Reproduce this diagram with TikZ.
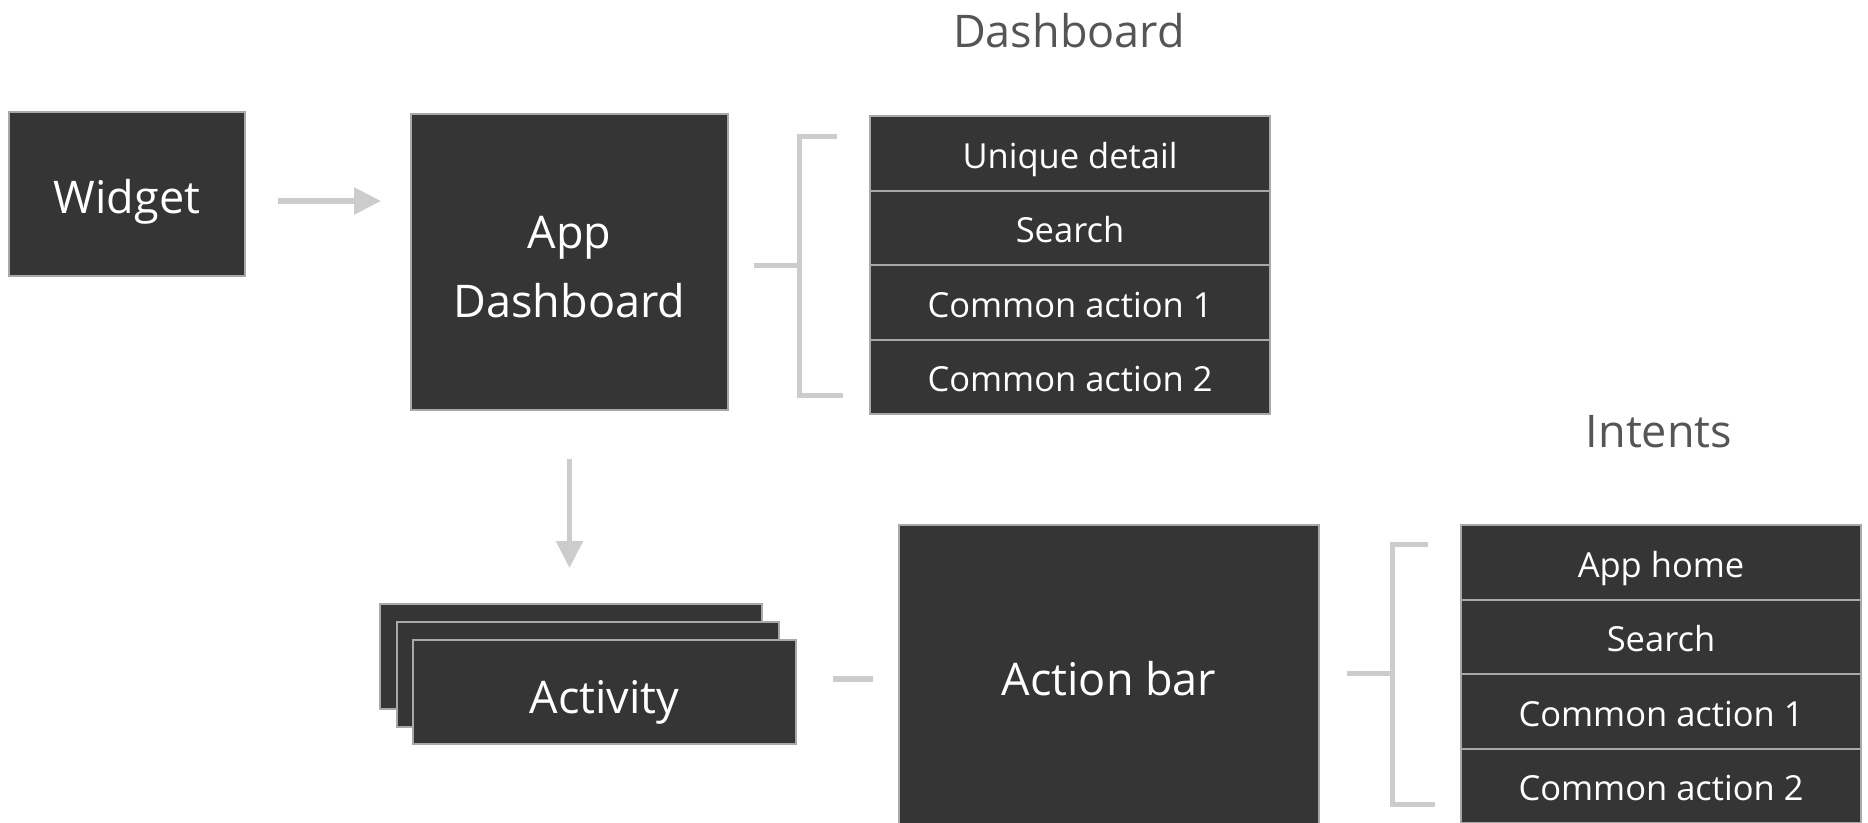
\documentclass[tikz,border=0pt]{standalone}
\usepackage{fontspec}
\setmainfont{Open Sans}
\usetikzlibrary{arrows.meta,calc}
\definecolor{boxfill}{HTML}{353535}
\definecolor{boxline}{HTML}{A8A8A8}
\definecolor{connc}{HTML}{CCCCCC}
\definecolor{titlec}{HTML}{555555}
\begin{document}
\begin{tikzpicture}[x=1pt,y=-1pt,
  box/.style={draw=boxline, line width=2pt, fill=boxfill, text=white, inner sep=0pt, outer sep=0pt, anchor=center},
  big/.style={font=\fontsize{45}{69}\selectfont},
  item/.style={box, font=\fontsize{34.5}{40}\selectfont, minimum width=400pt, minimum height=74.5pt, text height=30pt, text depth=0pt},
  conn/.style={draw=connc, line width=5.5pt},
  arr/.style={conn, -{Triangle[length=27pt,width=26pt]}},
  bracket/.style={draw=connc, line width=5pt, line join=miter},
  title/.style={text=titlec, font=\fontsize{45}{54}\selectfont, inner sep=0pt, anchor=base}
]
\useasboundingbox (0,0) rectangle (1868,822);

% titles
\node[title] (dtitle) at (1069,47.7) {Dashboard};
\node[title] (ititle) at (1659,447.3) {Intents};

% widget and dashboard
\node[box,big,minimum width=236pt,minimum height=164pt,text height=38.6pt,text depth=0pt] (widget) at (127,194) {Widget};
\node[box,big,align=center,minimum width=317pt,minimum height=296pt,text height=110.6pt,text depth=0pt] (app) at (569.5,262) {App\\Dashboard};

% dashboard list
\node[item] (d1) at (1070,153.25) {Unique detail};
\node[item] (d2) at (1070,227.75) {Search};
\node[item] (d3) at (1070,302.25) {Common action 1};
\node[item] (d4) at (1070,376.75) {Common action 2};

% activity stack
\node[box,minimum width=382pt,minimum height=105pt] (actb) at (570.5,656.5) {};
\node[box,minimum width=382pt,minimum height=105pt] (actm) at (588,674.5) {};
\node[box,big,minimum width=383pt,minimum height=104pt,text height=42.6pt,text depth=0pt] (act) at (604.5,692) {Activity};

% action bar
\node[box,big,minimum width=420pt,minimum height=308pt,text height=32pt,text depth=0pt] (abar) at (1109,679) {Action bar};

% intents list
\node[item] (i1) at (1661,562.25) {App home};
\node[item] (i2) at (1661,636.75) {Search};
\node[item] (i3) at (1661,711.25) {Common action 1};
\node[item] (i4) at (1661,785.75) {Common action 2};

% connectors
\draw[arr, shorten <=33pt, shorten >=30pt] ([yshift=-7pt]widget.east) -- ([yshift=-7pt]widget.east -| app.west);
\draw[arr, shorten <=49pt, shorten >=36pt] (app.south) -- (app.south |- actb.north);
\draw[conn, shorten <=37pt, shorten >=26pt] (act.east |- abar.west) -- (abar.west);

% bracket 1
\coordinate (b1s) at (799,265.5);
\coordinate (b1t) at (837,136);
\coordinate (b1b) at (843,395.5);
\draw[bracket] ([xshift=26pt]app.east |- b1s) -- (b1s);
\draw[bracket] (b1t) -- (b1t -| b1s) -- (b1b -| b1s) -- (b1b);

% bracket 2
\coordinate (b2s) at (1392,673.5);
\coordinate (b2t) at (1428,544);
\coordinate (b2b) at (1434.5,804);
\draw[bracket] ([xshift=28pt]abar.east |- b2s) -- (b2s);
\draw[bracket] (b2t) -- (b2t -| b2s) -- (b2b -| b2s) -- (b2b);
\end{tikzpicture}
\end{document}
